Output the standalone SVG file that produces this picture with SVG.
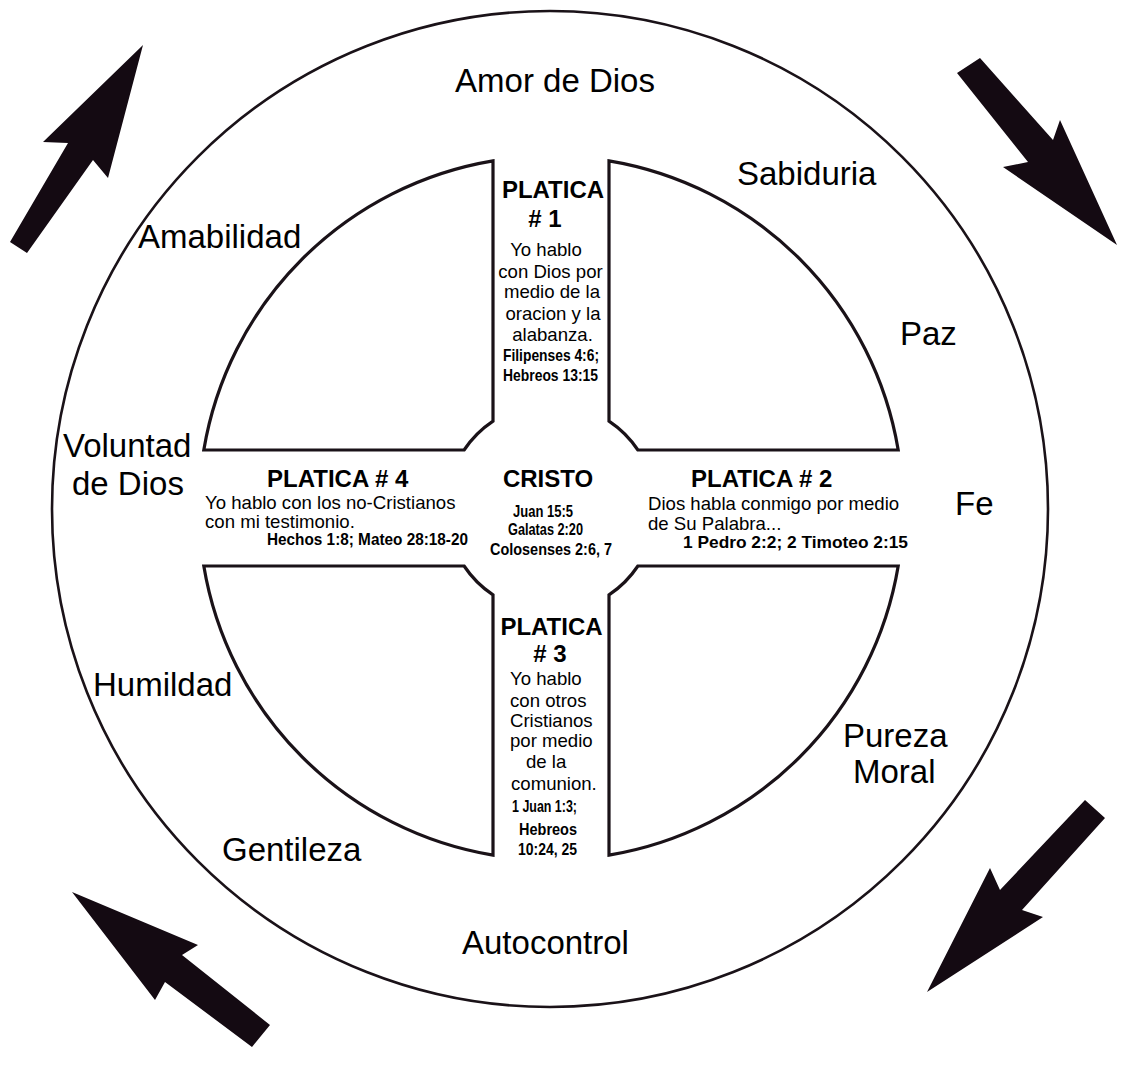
<svg xmlns="http://www.w3.org/2000/svg" width="1129" height="1068" viewBox="0 0 1129 1068">
<style>
.bg{fill:#ffffff}
.ring{fill:none;stroke:#1a1218;stroke-width:2.6}
.q{fill:#ffffff;stroke:#1a1218;stroke-width:3.2;stroke-linejoin:miter}
.arr{fill:#140a12}
text{fill:#000;font-family:"Liberation Sans",Arial,Helvetica,sans-serif}
.lbl{font-size:33px}
.t{font-size:24px;font-weight:bold}
.b{font-size:18.6px}
.r{font-size:16.5px;font-weight:bold;font-family:"Liberation Sans Narrow","Liberation Sans",Arial,sans-serif}
.m{text-anchor:middle}
</style>
<rect class="bg" x="0" y="0" width="1129" height="1068"/>

<g id="outer-circle">
<circle class="ring" cx="550" cy="509" r="498"/>
</g>

<g id="arrows">
<polygon class="arr" points="143,45 108,178 93,160 27,253 10,242 68,143 43,142"/>
<polygon class="arr" points="980,58 1053,140 1060,120 1117,245 1003,167 1028,162 957,73"/>
<polygon class="arr" points="1085,800 1105,818 1022,910 1043,917 927,992 990,868 1000,890"/>
<polygon class="arr" points="72,892 198,945 182,955 270,1025 252,1047 165,982 155,1000"/>
</g>

<g id="quadrant-tl">
<path class="q" d="M493,421.1 L493,160.8 A352,352 0 0 0 203.8,450 L464.1,450 A104.5,104.5 0 0 1 493,421.1 Z"/>
</g>
<g id="quadrant-tr">
<path class="q" d="M609,421.1 L609,160.8 A352,352 0 0 1 898.2,450 L637.9,450 A104.5,104.5 0 0 0 609,421.1 Z"/>
</g>
<g id="quadrant-bl">
<path class="q" d="M493,594.9 L493,855.2 A352,352 0 0 1 203.8,566 L464.1,566 A104.5,104.5 0 0 0 493,594.9 Z"/>
</g>
<g id="quadrant-br">
<path class="q" d="M609,594.9 L609,855.2 A352,352 0 0 0 898.2,566 L637.9,566 A104.5,104.5 0 0 1 609,594.9 Z"/>
</g>

<g id="virtues">
<text class="lbl m" x="555" y="92">Amor de Dios</text>
<text class="lbl" x="737" y="185">Sabiduria</text>
<text class="lbl" x="138" y="248">Amabilidad</text>
<text class="lbl" x="900" y="345">Paz</text>
<text class="lbl" x="63" y="457">Voluntad</text>
<text class="lbl" x="72" y="495">de Dios</text>
<text class="lbl" x="955" y="515">Fe</text>
<text class="lbl" x="93" y="696">Humildad</text>
<text class="lbl" x="843" y="747">Pureza</text>
<text class="lbl" x="853" y="783">Moral</text>
<text class="lbl" x="222" y="861">Gentileza</text>
<text class="lbl" x="462" y="954">Autocontrol</text>
</g>

<g id="platica-1">
<text class="t m" x="553" y="198">PLATICA</text>
<text class="t m" x="545" y="227"># 1</text>
<text class="b m" x="546" y="256">Yo hablo</text>
<text class="b m" x="550.5" y="278">con Dios por</text>
<text class="b m" x="552" y="298">medio de la</text>
<text class="b m" x="553" y="320">oracion y la</text>
<text class="b m" x="552.5" y="341">alabanza.</text>
<text class="r" x="503" y="361" textLength="96" lengthAdjust="spacingAndGlyphs">Filipenses 4:6;</text>
<text class="r" x="503" y="381" textLength="95" lengthAdjust="spacingAndGlyphs">Hebreos 13:15</text>
</g>

<g id="platica-4">
<text class="t" x="267" y="487">PLATICA # 4</text>
<text class="b" x="205" y="509">Yo hablo con los no-Cristianos</text>
<text class="b" x="205" y="528">con mi testimonio.</text>
<text class="r" x="267" y="545" textLength="201" lengthAdjust="spacingAndGlyphs">Hechos 1:8; Mateo 28:18-20</text>
</g>

<g id="cristo">
<text class="t m" x="548" y="487">CRISTO</text>
<text class="r" x="513" y="517" textLength="60" lengthAdjust="spacingAndGlyphs">Juan 15:5</text>
<text class="r" x="508" y="535" textLength="75" lengthAdjust="spacingAndGlyphs">Galatas 2:20</text>
<text class="r" x="490" y="555" textLength="122" lengthAdjust="spacingAndGlyphs">Colosenses 2:6, 7</text>
</g>

<g id="platica-2">
<text class="t" x="691" y="487">PLATICA # 2</text>
<text class="b" x="648" y="510">Dios habla conmigo por medio</text>
<text class="b" x="648" y="530">de Su Palabra...</text>
<text class="r" x="683" y="548" textLength="225" lengthAdjust="spacingAndGlyphs">1 Pedro 2:2; 2 Timoteo 2:15</text>
</g>

<g id="platica-3">
<text class="t m" x="551.5" y="635">PLATICA</text>
<text class="t m" x="550" y="662"># 3</text>
<text class="b" x="510" y="685">Yo hablo</text>
<text class="b" x="510" y="707">con otros</text>
<text class="b" x="510" y="727">Cristianos</text>
<text class="b" x="510" y="747">por medio</text>
<text class="b" x="526" y="768">de la</text>
<text class="b" x="511" y="790">comunion.</text>
<text class="r" x="512" y="812" textLength="65" lengthAdjust="spacingAndGlyphs">1 Juan 1:3;</text>
<text class="r" x="519" y="835" textLength="58" lengthAdjust="spacingAndGlyphs">Hebreos</text>
<text class="r" x="518" y="855" textLength="59" lengthAdjust="spacingAndGlyphs">10:24, 25</text>
</g>
</svg>
